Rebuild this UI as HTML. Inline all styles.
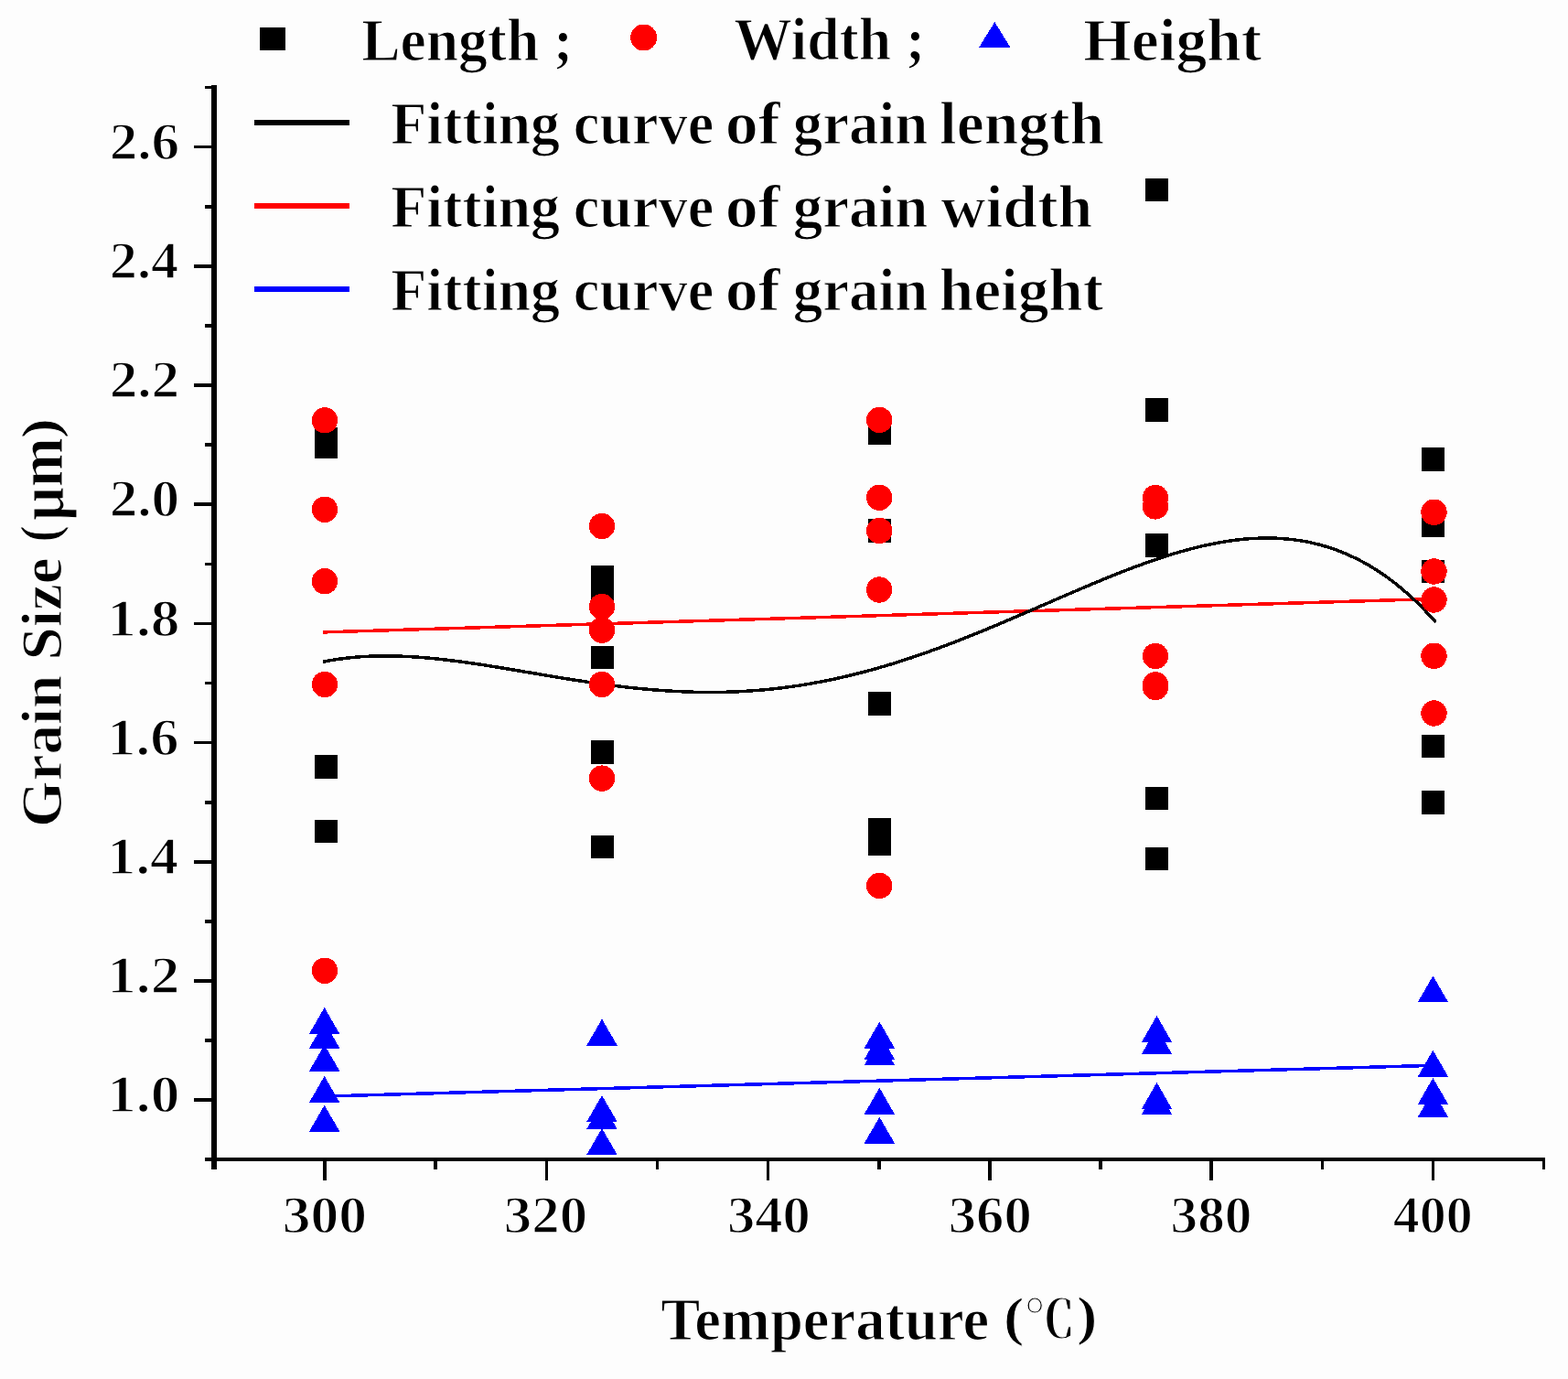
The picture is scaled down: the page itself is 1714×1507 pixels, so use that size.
<!DOCTYPE html><html><head><meta charset="utf-8"><title>Grain Size vs Temperature</title><style>html,body{margin:0;padding:0;background:#fdfdfd;}svg{display:block;}rect,circle,polygon,line,path{shape-rendering:crispEdges;}text{font-family:"Liberation Serif","DejaVu Serif",serif;font-weight:bold;fill:#000;stroke:#fdfdfd;stroke-width:1.2px;}text.d{stroke-width:1.4px;}</style></head><body>
<svg width="1714" height="1507" viewBox="0 0 1714 1507">
<rect x="0" y="0" width="1714" height="1507" fill="#fdfdfd"/>
<g fill="#000">
<rect x="231" y="93" width="6" height="1185"/>
<rect x="224" y="1265" width="1465" height="3.6"/>
<rect x="212" y="1200.4" width="19" height="3.6"/>
<rect x="212" y="1070.2" width="19" height="3.6"/>
<rect x="212" y="940.0" width="19" height="3.6"/>
<rect x="212" y="809.8" width="19" height="3.6"/>
<rect x="212" y="679.6" width="19" height="3.6"/>
<rect x="212" y="549.4" width="19" height="3.6"/>
<rect x="212" y="419.2" width="19" height="3.6"/>
<rect x="212" y="289.0" width="19" height="3.6"/>
<rect x="212" y="158.8" width="19" height="3.6"/>
<rect x="224" y="1135.3" width="7" height="3.6"/>
<rect x="224" y="1005.1" width="7" height="3.6"/>
<rect x="224" y="874.9" width="7" height="3.6"/>
<rect x="224" y="744.7" width="7" height="3.6"/>
<rect x="224" y="614.5" width="7" height="3.6"/>
<rect x="224" y="484.3" width="7" height="3.6"/>
<rect x="224" y="354.1" width="7" height="3.6"/>
<rect x="224" y="223.9" width="7" height="3.6"/>
<rect x="224" y="93.7" width="7" height="3.6"/>
<rect x="353.2" y="1268" width="3.6" height="22"/>
<rect x="595.5" y="1268" width="3.6" height="22"/>
<rect x="837.8" y="1268" width="3.6" height="22"/>
<rect x="1080.0" y="1268" width="3.6" height="22"/>
<rect x="1322.3" y="1268" width="3.6" height="22"/>
<rect x="1564.6" y="1268" width="3.6" height="22"/>
<rect x="474.3" y="1268" width="3.6" height="10"/>
<rect x="716.6" y="1268" width="3.6" height="10"/>
<rect x="958.9" y="1268" width="3.6" height="10"/>
<rect x="1201.2" y="1268" width="3.6" height="10"/>
<rect x="1443.5" y="1268" width="3.6" height="10"/>
<rect x="1685.7" y="1268" width="3.6" height="10"/>
</g>
<text class="d" x="117.20" y="1215.40" font-size="57" textLength="79.11" lengthAdjust="spacingAndGlyphs">1.0</text>
<text class="d" x="117.20" y="1085.20" font-size="57" textLength="79.11" lengthAdjust="spacingAndGlyphs">1.2</text>
<text class="d" x="117.28" y="955.00" font-size="57" textLength="77.89" lengthAdjust="spacingAndGlyphs">1.4</text>
<text class="d" x="117.26" y="824.80" font-size="57" textLength="78.13" lengthAdjust="spacingAndGlyphs">1.6</text>
<text class="d" x="117.19" y="694.60" font-size="57" textLength="79.23" lengthAdjust="spacingAndGlyphs">1.8</text>
<text class="d" x="119.67" y="564.40" font-size="57" textLength="76.59" lengthAdjust="spacingAndGlyphs">2.0</text>
<text class="d" x="119.67" y="434.20" font-size="57" textLength="76.59" lengthAdjust="spacingAndGlyphs">2.2</text>
<text class="d" x="119.73" y="304.00" font-size="57" textLength="75.40" lengthAdjust="spacingAndGlyphs">2.4</text>
<text class="d" x="119.68" y="173.80" font-size="57" textLength="76.56" lengthAdjust="spacingAndGlyphs">2.6</text>
<text class="d" x="308.82" y="1347.00" font-size="57" textLength="92.26" lengthAdjust="spacingAndGlyphs">300</text>
<text class="d" x="550.84" y="1347.00" font-size="57" textLength="91.28" lengthAdjust="spacingAndGlyphs">320</text>
<text class="d" x="794.90" y="1347.00" font-size="57" textLength="90.94" lengthAdjust="spacingAndGlyphs">340</text>
<text class="d" x="1036.65" y="1347.00" font-size="57" textLength="91.11" lengthAdjust="spacingAndGlyphs">360</text>
<text class="d" x="1279.56" y="1347.00" font-size="57" textLength="88.86" lengthAdjust="spacingAndGlyphs">380</text>
<text class="d" x="1522.88" y="1347.00" font-size="57" textLength="86.87" lengthAdjust="spacingAndGlyphs">400</text>
<text x="395.14" y="66.03" font-size="65.6" textLength="231.10" lengthAdjust="spacingAndGlyphs">Length ;</text>
<text x="802.15" y="65.31" font-size="65.6" textLength="209.08" lengthAdjust="spacingAndGlyphs">Width ;</text>
<text x="1184.36" y="66.42" font-size="65.6" textLength="194.88" lengthAdjust="spacingAndGlyphs">Height</text>
<text x="722.17" y="1463.98" font-size="65.6" textLength="359.15" lengthAdjust="spacingAndGlyphs">Temperature</text>
<text y="156.66" font-size="65.6"><tspan x="427.18" textLength="184.84" lengthAdjust="spacingAndGlyphs">Fitting</tspan> <tspan x="626.67" textLength="153.64" lengthAdjust="spacingAndGlyphs">curve</tspan> <tspan x="792.75" textLength="60.06" lengthAdjust="spacingAndGlyphs">of</tspan> <tspan x="866.71" textLength="147.75" lengthAdjust="spacingAndGlyphs">grain</tspan> <tspan x="1026.95" textLength="180.09" lengthAdjust="spacingAndGlyphs">length</tspan></text>
<text y="248.13" font-size="65.6"><tspan x="427.18" textLength="184.84" lengthAdjust="spacingAndGlyphs">Fitting</tspan> <tspan x="626.67" textLength="153.64" lengthAdjust="spacingAndGlyphs">curve</tspan> <tspan x="792.75" textLength="60.06" lengthAdjust="spacingAndGlyphs">of</tspan> <tspan x="866.71" textLength="147.75" lengthAdjust="spacingAndGlyphs">grain</tspan> <tspan x="1028.58" textLength="165.65" lengthAdjust="spacingAndGlyphs">width</tspan></text>
<text y="339.08" font-size="65.6"><tspan x="427.18" textLength="184.84" lengthAdjust="spacingAndGlyphs">Fitting</tspan> <tspan x="626.67" textLength="153.64" lengthAdjust="spacingAndGlyphs">curve</tspan> <tspan x="792.75" textLength="60.06" lengthAdjust="spacingAndGlyphs">of</tspan> <tspan x="866.71" textLength="147.75" lengthAdjust="spacingAndGlyphs">grain</tspan> <tspan x="1026.74" textLength="179.49" lengthAdjust="spacingAndGlyphs">height</tspan></text>
<text transform="translate(67.00,904.10) rotate(-90)" x="0" y="0" font-size="64" textLength="294.80" lengthAdjust="spacingAndGlyphs">Grain Size</text>
<text transform="translate(1096.992,1458.903) scale(0.67235,0.58286)" font-size="100" style="font-family:'Liberation Serif',serif;font-weight:bold;stroke-width:1.59px">(</text>
<text transform="translate(1119.470,1461.860) scale(0.55742,0.56487)" font-size="100" style="font-family:'Liberation Serif','Noto Serif CJK SC',serif;font-weight:bold;stroke-width:1.78px">℃</text>
<text transform="translate(1176.893,1457.721) scale(0.67235,0.59498)" font-size="100" style="font-family:'Liberation Serif',serif;font-weight:bold;stroke-width:1.58px">)</text>
<text transform="translate(62.676,592.433) rotate(-90) scale(0.54633,0.59098)" font-size="100" style="font-family:'Liberation Serif',serif;font-weight:bold;stroke-width:1.76px">(</text>
<text transform="translate(69.092,568.874) rotate(-90) scale(0.64243,0.70611)" font-size="100" style="font-family:'Liberation Serif',serif;font-weight:bold;stroke-width:1.48px">μ</text>
<text transform="translate(68.033,531.965) rotate(-90) scale(0.64490,0.70473)" font-size="100" style="font-family:'Liberation Serif',serif;font-weight:bold;stroke-width:1.48px">m</text>
<text transform="translate(62.921,479.134) rotate(-90) scale(0.66749,0.57961)" font-size="100" style="font-family:'Liberation Serif',serif;font-weight:bold;stroke-width:1.60px">)</text>
<line x1="353.3" y1="690.9" x2="1567" y2="654.5" stroke="#ff0000" stroke-width="3.5"/>
<line x1="353.3" y1="1198.1" x2="1567" y2="1164.3" stroke="#0000ff" stroke-width="3.5"/>
<path d="M353.0,723.3 L357.1,722.5 L361.1,721.7 L365.2,721.1 L369.3,720.4 L373.3,719.9 L377.4,719.4 L381.5,718.9 L385.5,718.5 L389.6,718.1 L393.7,717.8 L397.8,717.5 L401.8,717.3 L405.9,717.1 L410.0,717.0 L414.0,716.9 L418.1,716.9 L422.2,716.9 L426.2,716.9 L430.3,717.0 L434.4,717.1 L438.4,717.2 L442.5,717.4 L446.6,717.6 L450.6,717.8 L454.7,718.0 L458.8,718.3 L462.9,718.7 L466.9,719.0 L471.0,719.4 L475.1,719.8 L479.1,720.2 L483.2,720.6 L487.3,721.1 L491.3,721.6 L495.4,722.1 L499.5,722.6 L503.5,723.1 L507.6,723.7 L511.7,724.2 L515.7,724.8 L519.8,725.4 L523.9,726.0 L527.9,726.6 L532.0,727.3 L536.1,727.9 L540.2,728.6 L544.2,729.2 L548.3,729.9 L552.4,730.6 L556.4,731.2 L560.5,731.9 L564.6,732.6 L568.6,733.3 L572.7,734.0 L576.8,734.7 L580.8,735.3 L584.9,736.0 L589.0,736.7 L593.0,737.4 L597.1,738.1 L601.2,738.8 L605.3,739.5 L609.3,740.1 L613.4,740.8 L617.5,741.5 L621.5,742.1 L625.6,742.8 L629.7,743.4 L633.7,744.0 L637.8,744.6 L641.9,745.3 L645.9,745.9 L650.0,746.5 L654.1,747.0 L658.1,747.6 L662.2,748.1 L666.3,748.7 L670.3,749.2 L674.4,749.7 L678.5,750.2 L682.6,750.7 L686.6,751.2 L690.7,751.6 L694.8,752.0 L698.8,752.5 L702.9,752.8 L707.0,753.2 L711.0,753.6 L715.1,753.9 L719.2,754.2 L723.2,754.5 L727.3,754.8 L731.4,755.1 L735.4,755.3 L739.5,755.5 L743.6,755.7 L747.7,755.9 L751.7,756.1 L755.8,756.2 L759.9,756.3 L763.9,756.4 L768.0,756.4 L772.1,756.5 L776.1,756.5 L780.2,756.5 L784.3,756.4 L788.3,756.4 L792.4,756.3 L796.5,756.2 L800.5,756.0 L804.6,755.9 L808.7,755.7 L812.7,755.5 L816.8,755.2 L820.9,754.9 L825.0,754.6 L829.0,754.3 L833.1,754.0 L837.2,753.6 L841.2,753.2 L845.3,752.8 L849.4,752.3 L853.4,751.9 L857.5,751.4 L861.6,750.8 L865.6,750.3 L869.7,749.7 L873.8,749.1 L877.8,748.4 L881.9,747.8 L886.0,747.1 L890.1,746.3 L894.1,745.6 L898.2,744.8 L902.3,744.0 L906.3,743.2 L910.4,742.4 L914.5,741.5 L918.5,740.6 L922.6,739.7 L926.7,738.7 L930.7,737.7 L934.8,736.7 L938.9,735.7 L942.9,734.7 L947.0,733.6 L951.1,732.5 L955.1,731.4 L959.2,730.2 L963.3,729.0 L967.4,727.8 L971.4,726.6 L975.5,725.4 L979.6,724.1 L983.6,722.8 L987.7,721.5 L991.8,720.2 L995.8,718.9 L999.9,717.5 L1004.0,716.1 L1008.0,714.7 L1012.1,713.3 L1016.2,711.8 L1020.2,710.4 L1024.3,708.9 L1028.4,707.4 L1032.4,705.9 L1036.5,704.3 L1040.6,702.8 L1044.7,701.2 L1048.7,699.6 L1052.8,698.0 L1056.9,696.4 L1060.9,694.8 L1065.0,693.2 L1069.1,691.5 L1073.1,689.9 L1077.2,688.2 L1081.3,686.5 L1085.3,684.8 L1089.4,683.1 L1093.5,681.4 L1097.5,679.7 L1101.6,677.9 L1105.7,676.2 L1109.8,674.4 L1113.8,672.7 L1117.9,670.9 L1122.0,669.2 L1126.0,667.4 L1130.1,665.7 L1134.2,663.9 L1138.2,662.1 L1142.3,660.4 L1146.4,658.6 L1150.4,656.8 L1154.5,655.0 L1158.6,653.3 L1162.6,651.5 L1166.7,649.8 L1170.8,648.0 L1174.8,646.3 L1178.9,644.5 L1183.0,642.8 L1187.1,641.1 L1191.1,639.4 L1195.2,637.6 L1199.3,636.0 L1203.3,634.3 L1207.4,632.6 L1211.5,630.9 L1215.5,629.3 L1219.6,627.7 L1223.7,626.1 L1227.7,624.5 L1231.8,622.9 L1235.9,621.4 L1239.9,619.8 L1244.0,618.3 L1248.1,616.8 L1252.2,615.4 L1256.2,613.9 L1260.3,612.5 L1264.4,611.1 L1268.4,609.8 L1272.5,608.4 L1276.6,607.1 L1280.6,605.9 L1284.7,604.6 L1288.8,603.4 L1292.8,602.3 L1296.9,601.2 L1301.0,600.1 L1305.0,599.0 L1309.1,598.0 L1313.2,597.0 L1317.2,596.1 L1321.3,595.2 L1325.4,594.4 L1329.5,593.6 L1333.5,592.8 L1337.6,592.1 L1341.7,591.5 L1345.7,590.9 L1349.8,590.3 L1353.9,589.9 L1357.9,589.4 L1362.0,589.0 L1366.1,588.7 L1370.1,588.5 L1374.2,588.3 L1378.3,588.1 L1382.3,588.0 L1386.4,588.0 L1390.5,588.1 L1394.6,588.2 L1398.6,588.4 L1402.7,588.7 L1406.8,589.0 L1410.8,589.4 L1414.9,589.9 L1419.0,590.5 L1423.0,591.1 L1427.1,591.8 L1431.2,592.6 L1435.2,593.5 L1439.3,594.5 L1443.4,595.5 L1447.4,596.7 L1451.5,597.9 L1455.6,599.2 L1459.6,600.6 L1463.7,602.2 L1467.8,603.8 L1471.9,605.5 L1475.9,607.3 L1480.0,609.2 L1484.1,611.2 L1488.1,613.3 L1492.2,615.5 L1496.3,617.8 L1500.3,620.3 L1504.4,622.8 L1508.5,625.5 L1512.5,628.2 L1516.6,631.1 L1520.7,634.1 L1524.7,637.2 L1528.8,640.5 L1532.9,643.9 L1537.0,647.4 L1541.0,651.0 L1545.1,654.7 L1549.2,658.6 L1553.2,662.6 L1557.3,666.8 L1561.4,671.1 L1565.4,675.5 L1569.5,680.1" fill="none" stroke="#000" stroke-width="3.5"/>
<rect x="343.8" y="467.2" width="25.5" height="25.5" fill="#000"/>
<rect x="343.8" y="475.8" width="25.5" height="25.5" fill="#000"/>
<rect x="343.8" y="825.0" width="25.5" height="25.5" fill="#000"/>
<rect x="343.8" y="895.6" width="25.5" height="25.5" fill="#000"/>
<rect x="645.5" y="617.8" width="25.5" height="25.5" fill="#000"/>
<rect x="645.5" y="630.8" width="25.5" height="25.5" fill="#000"/>
<rect x="645.5" y="705.8" width="25.5" height="25.5" fill="#000"/>
<rect x="645.5" y="809.2" width="25.5" height="25.5" fill="#000"/>
<rect x="645.5" y="912.6" width="25.5" height="25.5" fill="#000"/>
<rect x="948.6" y="460.8" width="25.5" height="25.5" fill="#000"/>
<rect x="948.6" y="567.2" width="25.5" height="25.5" fill="#000"/>
<rect x="948.6" y="756.0" width="25.5" height="25.5" fill="#000"/>
<rect x="948.6" y="894.2" width="25.5" height="25.5" fill="#000"/>
<rect x="948.6" y="909.2" width="25.5" height="25.5" fill="#000"/>
<rect x="1251.8" y="194.6" width="25.5" height="25.5" fill="#000"/>
<rect x="1251.8" y="435.1" width="25.5" height="25.5" fill="#000"/>
<rect x="1251.8" y="583.0" width="25.5" height="25.5" fill="#000"/>
<rect x="1251.8" y="859.5" width="25.5" height="25.5" fill="#000"/>
<rect x="1251.8" y="925.5" width="25.5" height="25.5" fill="#000"/>
<rect x="1553.7" y="489.1" width="25.5" height="25.5" fill="#000"/>
<rect x="1553.7" y="561.2" width="25.5" height="25.5" fill="#000"/>
<rect x="1553.7" y="611.5" width="25.5" height="25.5" fill="#000"/>
<rect x="1553.7" y="802.9" width="25.5" height="25.5" fill="#000"/>
<rect x="1553.7" y="864.2" width="25.5" height="25.5" fill="#000"/>
<circle cx="355.0" cy="459.3" r="14.2" fill="#ff0000"/>
<circle cx="355.0" cy="556.8" r="14.2" fill="#ff0000"/>
<circle cx="355.0" cy="635.2" r="14.2" fill="#ff0000"/>
<circle cx="355.0" cy="748.0" r="14.2" fill="#ff0000"/>
<circle cx="355.0" cy="1060.8" r="14.2" fill="#ff0000"/>
<circle cx="658.0" cy="575.0" r="14.2" fill="#ff0000"/>
<circle cx="658.0" cy="663.0" r="14.2" fill="#ff0000"/>
<circle cx="658.0" cy="688.7" r="14.2" fill="#ff0000"/>
<circle cx="658.0" cy="748.0" r="14.2" fill="#ff0000"/>
<circle cx="658.0" cy="850.6" r="14.2" fill="#ff0000"/>
<circle cx="961.2" cy="459.0" r="14.2" fill="#ff0000"/>
<circle cx="961.2" cy="543.8" r="14.2" fill="#ff0000"/>
<circle cx="961.2" cy="580.0" r="14.2" fill="#ff0000"/>
<circle cx="961.2" cy="644.5" r="14.2" fill="#ff0000"/>
<circle cx="961.2" cy="968.0" r="14.2" fill="#ff0000"/>
<circle cx="1263.0" cy="544.0" r="14.2" fill="#ff0000"/>
<circle cx="1263.0" cy="553.4" r="14.2" fill="#ff0000"/>
<circle cx="1263.0" cy="717.0" r="14.2" fill="#ff0000"/>
<circle cx="1263.0" cy="748.3" r="14.2" fill="#ff0000"/>
<circle cx="1263.0" cy="751.0" r="14.2" fill="#ff0000"/>
<circle cx="1567.5" cy="559.8" r="14.2" fill="#ff0000"/>
<circle cx="1567.5" cy="624.5" r="14.2" fill="#ff0000"/>
<circle cx="1567.5" cy="655.5" r="14.2" fill="#ff0000"/>
<circle cx="1567.5" cy="716.8" r="14.2" fill="#ff0000"/>
<circle cx="1567.5" cy="779.5" r="14.2" fill="#ff0000"/>
<polygon points="337.9,1130.0 371.4,1130.0 354.7,1101.0" fill="#0000ff"/>
<polygon points="337.9,1145.7 371.4,1145.7 354.7,1116.7" fill="#0000ff"/>
<polygon points="337.9,1170.7 371.4,1170.7 354.7,1141.7" fill="#0000ff"/>
<polygon points="337.9,1205.0 371.4,1205.0 354.7,1176.0" fill="#0000ff"/>
<polygon points="337.9,1236.7 371.4,1236.7 354.7,1207.7" fill="#0000ff"/>
<polygon points="641.2,1142.6 674.8,1142.6 658.0,1113.6" fill="#0000ff"/>
<polygon points="641.2,1226.0 674.8,1226.0 658.0,1197.0" fill="#0000ff"/>
<polygon points="641.2,1234.0 674.8,1234.0 658.0,1205.0" fill="#0000ff"/>
<polygon points="641.2,1262.0 674.8,1262.0 658.0,1233.0" fill="#0000ff"/>
<polygon points="944.6,1145.6 978.1,1145.6 961.4,1116.6" fill="#0000ff"/>
<polygon points="944.6,1157.9 978.1,1157.9 961.4,1128.9" fill="#0000ff"/>
<polygon points="944.6,1164.2 978.1,1164.2 961.4,1135.2" fill="#0000ff"/>
<polygon points="944.6,1217.8 978.1,1217.8 961.4,1188.8" fill="#0000ff"/>
<polygon points="944.6,1249.7 978.1,1249.7 961.4,1220.7" fill="#0000ff"/>
<polygon points="1247.8,1139.0 1281.2,1139.0 1264.5,1110.0" fill="#0000ff"/>
<polygon points="1247.8,1152.0 1281.2,1152.0 1264.5,1123.0" fill="#0000ff"/>
<polygon points="1247.8,1212.0 1281.2,1212.0 1264.5,1183.0" fill="#0000ff"/>
<polygon points="1247.8,1218.0 1281.2,1218.0 1264.5,1189.0" fill="#0000ff"/>
<polygon points="1549.7,1095.4 1583.2,1095.4 1566.4,1066.4" fill="#0000ff"/>
<polygon points="1549.7,1176.7 1583.2,1176.7 1566.4,1147.7" fill="#0000ff"/>
<polygon points="1549.7,1207.0 1583.2,1207.0 1566.4,1178.0" fill="#0000ff"/>
<polygon points="1549.7,1220.9 1583.2,1220.9 1566.4,1191.9" fill="#0000ff"/>
<rect x="284" y="30" width="28" height="25" fill="#000"/>
<circle cx="703.6" cy="41" r="14.5" fill="#ff0000"/>
<polygon points="1070,52 1104.6,52 1087.3,24" fill="#0000ff"/>
<rect x="278" y="131" width="103.6" height="6" fill="#000"/>
<rect x="278" y="222" width="103.6" height="6" fill="#ff0000"/>
<rect x="278" y="313" width="103.6" height="6" fill="#0000ff"/>
</svg></body></html>
